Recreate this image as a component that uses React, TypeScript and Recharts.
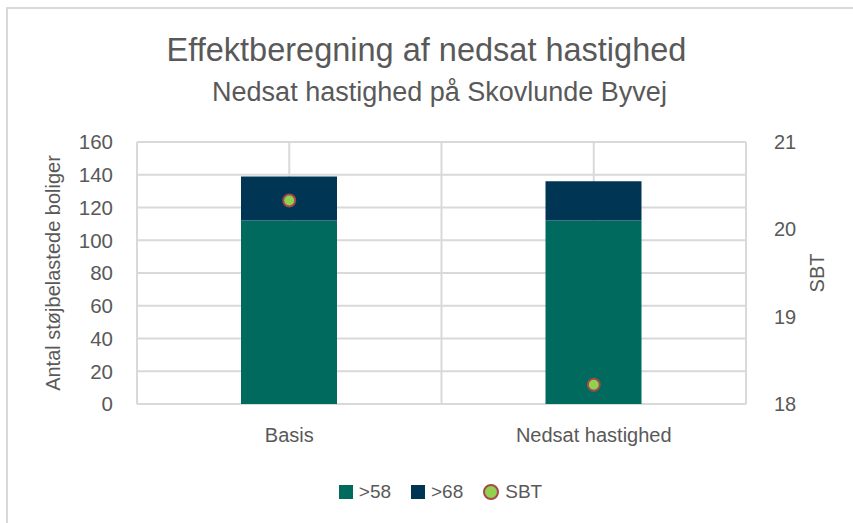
import { ComposedChart, Bar, Line, XAxis, YAxis, CartesianGrid, Legend } from "recharts";

const FONT = "'Liberation Sans', Arial, sans-serif";
const TEXT = "#595959";
const GRID = "#d9d9d9";
const GREEN = "#006a5f";
const NAVY = "#003654";
const DOT_FILL = "#92d050";
const DOT_STROKE = "#a5484a";

const categories = ["Basis", "Nedsat hastighed"];
const over58 = [112, 112];
const over68 = [27, 24];
const sbt = [20.33, 18.22];
const leftTicks = [0, 20, 40, 60, 80, 100, 120, 140, 160];
const rightTicks = [18, 19, 20, 21];

const data = categories.map((name, i) => ({
  name,
  over58: over58[i],
  over68: over68[i],
  sbt: sbt[i],
}));

const legendItems = [
  { label: ">58", color: GREEN, kind: "square" },
  { label: ">68", color: NAVY, kind: "square" },
  { label: "SBT", color: DOT_FILL, kind: "dot" },
];

function LegendContent() {
  return (
    <div
      style={{
        display: "flex",
        justifyContent: "center",
        gap: 20,
        fontFamily: FONT,
        fontSize: 19,
        color: TEXT,
        paddingLeft: 26,
      }}
    >
      {legendItems.map((it) => (
        <div key={it.label} style={{ display: "flex", alignItems: "center", gap: 6 }}>
          {it.kind === "square" ? (
            <span style={{ width: 14, height: 14, background: it.color, display: "inline-block" }} />
          ) : (
            <span
              style={{
                width: 12,
                height: 12,
                borderRadius: "50%",
                background: it.color,
                border: `2px solid ${DOT_STROKE}`,
                display: "inline-block",
              }}
            />
          )}
          <span>{it.label}</span>
        </div>
      ))}
    </div>
  );
}

export default function App() {
  return (
    <div style={{ position: "absolute", left: 0, top: 0, width: 853, height: 523, background: "#fff" }}>
      <div
        style={{
          position: "absolute",
          left: 6,
          top: 7,
          right: -10,
          bottom: -10,
          borderLeft: `2px solid ${GRID}`,
          borderTop: `2px solid ${GRID}`,
        }}
      />
      <div
        style={{
          position: "absolute",
          left: 0,
          width: 853,
          top: 30,
          textAlign: "center",
          fontFamily: FONT,
          color: TEXT,
        }}
      >
        <div style={{ fontSize: 32.5, lineHeight: "40px" }}>Effektberegning af nedsat hastighed</div>
        <div style={{ fontSize: 27, lineHeight: "30px", marginTop: 7, paddingLeft: 26 }}>
          Nedsat hastighed på Skovlunde Byvej
        </div>
      </div>
      <div style={{ position: "absolute", left: 0, top: 0 }}>
        <ComposedChart
          width={853}
          height={523}
          data={data}
          margin={{ top: 142, right: 40, bottom: 45, left: 42 }}
        >
          <CartesianGrid
            yAxisId="left"
            stroke={GRID}
            strokeWidth={2}
            verticalCoordinatesGenerator={({ offset }: any) =>
              [0, 1, 2, 3, 4].map((i) => offset.left + (i * offset.width) / 4)
            }
          />
          <XAxis
            dataKey="name"
            axisLine={false}
            tickLine={false}
            tick={{ fill: TEXT, fontSize: 20, fontFamily: FONT }}
            tickMargin={18}
            height={52}
          />
          <YAxis
            yAxisId="left"
            domain={[0, 160]}
            ticks={leftTicks}
            axisLine={false}
            tickLine={false}
            width={95}
            tick={{ fill: TEXT, fontSize: 20.5, fontFamily: FONT }}
            tickMargin={18}
            label={{
              value: "Antal støjbelastede boliger",
              angle: -90,
              position: "insideLeft",
              offset: 11,
              style: { fill: TEXT, fontSize: 20, fontFamily: FONT, textAnchor: "middle" },
            }}
          />
          <YAxis
            yAxisId="right"
            orientation="right"
            domain={[18, 21]}
            ticks={rightTicks}
            axisLine={false}
            tickLine={false}
            width={67}
            tick={{ fill: TEXT, fontSize: 20, fontFamily: FONT }}
            tickMargin={22}
            label={{
              value: "SBT",
              angle: -90,
              position: "insideRight",
              offset: -4,
              style: { fill: TEXT, fontSize: 20, fontFamily: FONT, textAnchor: "middle" },
            }}
          />
          <Legend verticalAlign="bottom" content={<LegendContent />} wrapperStyle={{ bottom: 20 }} />
          <Bar yAxisId="left" dataKey="over58" stackId="a" fill={GREEN} barSize={96} isAnimationActive={false} />
          <Bar yAxisId="left" dataKey="over68" stackId="a" fill={NAVY} barSize={96} isAnimationActive={false} />
          <Line
            yAxisId="right"
            dataKey="sbt"
            stroke="none"
            dot={{ r: 6, fill: DOT_FILL, stroke: DOT_STROKE, strokeWidth: 2 }}
            activeDot={false}
            isAnimationActive={false}
          />
        </ComposedChart>
      </div>
    </div>
  );
}
